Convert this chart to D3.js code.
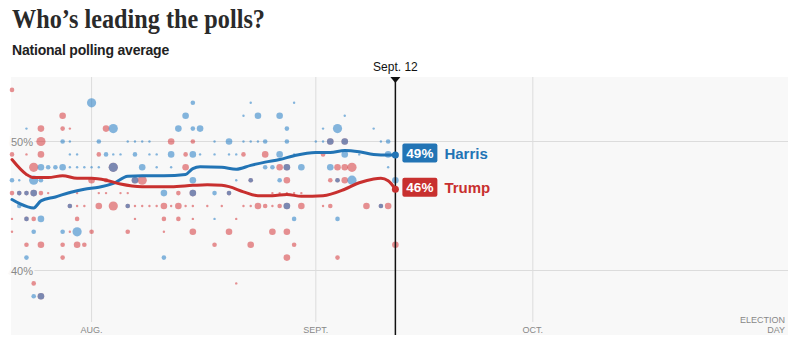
<!DOCTYPE html>
<html>
<head>
<meta charset="utf-8">
<script src="https://cdn.jsdelivr.net/npm/d3@7"></script>
<style>
  body { margin: 0; background: #fff; }
  text { font-family: "Liberation Sans", Arial, sans-serif; }
</style>
</head>
<body>
<div id="chart"></div>
<script>
// polling averages (date, pct)
const harrisAvg = [
  ["7/21", 45.5], ["7/22", 45.2], ["7/24", 44.85], ["7/25", 45.4], ["7/27", 45.7],
  ["7/29", 46.05], ["7/31", 46.3], ["8/2", 46.45], ["8/4", 46.75], ["8/6", 47.3],
  ["8/8", 47.35], ["8/11", 47.35], ["8/14", 47.45], ["8/15", 47.9], ["8/16", 48.05],
  ["8/19", 48.0], ["8/21", 47.85], ["8/23", 48.15], ["8/25", 48.4], ["8/27", 48.6],
  ["8/29", 48.9], ["9/1", 49.15], ["9/3", 49.15], ["9/5", 49.3], ["9/7", 49.2],
  ["9/9", 49.0], ["9/11", 48.95], ["9/12", 48.95]
];
const trumpAvg = [
  ["7/21", 48.6], ["7/23", 47.45], ["7/24", 47.2], ["7/26", 47.2], ["7/28", 47.35],
  ["7/30", 47.15], ["8/1", 47.15], ["8/3", 47.0], ["8/5", 46.7], ["8/8", 46.5],
  ["8/12", 46.5], ["8/15", 46.6], ["8/17", 46.65], ["8/19", 46.6], ["8/20", 46.5],
  ["8/22", 46.1], ["8/24", 45.8], ["8/26", 45.8], ["8/28", 45.9], ["8/30", 45.75],
  ["9/2", 45.8], ["9/5", 46.3], ["9/7", 46.8], ["9/9", 47.1], ["9/10", 47.15],
  ["9/11", 46.95], ["9/12", 46.3]
];

// individual polls (date, pct, size 1-4)
const harrisPolls = [
  ["8/1",53,4], ["8/15",53,2], ["8/23",53,1], ["8/29",53,1],
  ["8/14",52,3], ["8/22",52,1], ["8/24",52,3], ["8/27",52,3], ["9/5",52,1],
  ["7/23",51,1], ["8/4",51,4], ["8/13",51,3], ["8/15",51,2], ["8/16",51,3], ["8/28",51,2],
  ["9/2",51,1], ["9/4",51,4], ["9/9",51,1],
  ["7/28",50,2], ["7/29",50,1], ["8/2",50,2], ["8/6",50,1], ["8/7",50,1], ["8/8",50,1],
  ["8/9",50,1], ["8/18",50,1], ["8/20",50,3], ["8/22",50,1], ["8/23",50,1], ["8/24",50,1],
  ["8/25",50,2], ["8/28",50,2], ["9/1",50,1], ["9/2",50,1], ["9/3",50,3], ["9/5",50,3],
  ["9/10",50,1], ["9/11",50,2],
  ["7/29",49,1], ["7/30",49,1], ["8/3",49,2], ["8/4",49,1], ["8/5",49,1], ["8/7",49,2],
  ["8/9",49,1], ["8/10",49,1], ["8/12",49,3], ["8/15",49,3], ["8/16",49,1], ["8/18",49,1],
  ["8/20",49,1], ["8/21",49,1], ["8/27",49,3], ["8/29",49,1], ["9/5",49,3], ["9/7",49,1],
  ["9/11",49,3],
  ["7/25",48,3], ["7/26",48,2], ["7/27",48,2], ["7/28",48,3], ["7/29",48,1], ["7/30",48,1],
  ["7/31",48,1], ["8/1",48,1], ["8/2",48,1], ["8/4",48,4], ["8/8",48,3], ["8/10",48,1],
  ["8/12",48,1], ["8/25",48,2], ["8/26",48,2], ["8/28",48,3], ["8/30",48,3], ["9/3",48,3],
  ["9/11",48,1],
  ["7/21",47,2], ["7/22",47,1], ["7/24",47,4], ["7/25",47,2], ["8/7",47,3], ["8/15",47,3],
  ["8/21",47,1], ["8/23",47,2], ["8/27",47,2], ["9/4",47,2], ["9/6",47,4], ["9/12",47,3],
  ["7/22",46,2], ["7/23",46,2], ["7/24",46,3], ["8/11",46,3], ["8/15",46,3], ["8/18",46,2],
  ["8/20",46,2],
  ["7/22",45,2], ["7/29",45,2], ["8/6",45,2], ["8/28",45,3], ["9/10",45,2],
  ["7/23",44,2], ["7/25",44,3], ["8/18",44,1], ["8/29",44,2], ["9/4",44,2],
  ["7/24",43,2], ["7/28",43,2], ["7/30",43,4],
  ["7/23",41,2], ["8/11",41,2],
  ["7/24",38,2], ["7/25",38,3]
];
const trumpPolls = [
  ["7/21",54,2],
  ["7/28",52,3],
  ["7/25",51,3], ["7/28",51,2], ["7/29",51,1], ["8/3",51,3],
  ["7/25",50,4], ["8/12",50,3], ["8/15",50,2], ["9/3",50,3], ["9/5",50,3],
  ["7/21",49,2], ["7/23",49,1], ["7/25",49,3], ["8/2",49,2], ["8/14",49,2], ["8/22",49,2],
  ["8/25",49,3], ["9/2",49,2],
  ["7/24",48,4], ["8/4",48,4], ["8/14",48,3], ["8/27",48,3], ["8/28",48,3], ["9/4",48,3],
  ["9/5",48,3], ["9/6",48,4],
  ["8/1",47,3], ["8/3",47,2], ["8/7",47,3], ["8/8",47,4], ["8/23",47,2], ["8/28",47,3],
  ["9/3",47,2], ["9/4",47,2], ["9/5",47,3],
  ["7/21",46,2], ["7/22",46,2], ["7/23",46,2], ["7/24",46,3], ["7/25",46,2], ["7/26",46,1],
  ["7/29",46,1], ["7/30",46,1], ["8/2",46,1], ["8/3",46,1], ["8/5",46,1], ["8/6",46,1],
  ["8/13",46,2], ["8/15",46,3], ["8/20",46,2], ["8/26",46,1], ["8/27",46,1], ["8/28",46,1],
  ["8/29",46,1], ["8/30",46,1],
  ["7/29",45,2], ["7/30",45,1], ["7/31",45,1], ["8/2",45,3], ["8/4",45,4], ["8/6",45,2],
  ["8/7",45,1], ["8/8",45,1], ["8/9",45,1], ["8/10",45,1], ["8/11",45,3], ["8/12",45,1],
  ["8/13",45,3], ["8/14",45,1], ["8/15",45,1], ["8/17",45,1], ["8/19",45,1], ["8/22",45,1],
  ["8/23",45,1], ["8/24",45,3], ["8/25",45,2], ["8/26",45,1], ["8/27",45,2], ["8/28",45,3],
  ["8/30",45,3], ["9/2",45,1], ["9/3",45,2], ["9/8",45,3], ["9/10",45,2], ["9/11",45,3],
  ["7/21",44,1], ["7/23",44,2], ["7/24",44,2], ["7/30",44,2], ["8/7",44,1], ["8/11",44,2],
  ["8/13",44,2], ["8/15",44,1], ["8/21",44,1],
  ["7/21",43,1], ["7/29",43,1], ["8/1",43,2], ["8/6",43,2], ["8/11",43,1], ["8/15",43,3],
  ["8/20",43,3], ["8/26",43,3], ["8/28",43,3],
  ["7/23",42,2], ["7/25",42,3], ["7/28",42,2], ["7/30",42,3], ["7/31",42,2], ["8/18",42,2],
  ["8/23",42,3], ["8/29",42,2], ["9/12",42,3],
  ["7/28",41,2], ["8/28",41,3], ["9/4",41,2],
  ["7/24",39,2], ["8/21",39,1],
  ["7/25",38,3]
];

const monthTicks = ["8/1", "9/1", "10/1"];
const monthLabels = ["AUG.", "SEPT.", "OCT."];
const pctTicks = [50, 40];
const today = "9/12";
const todayLabel = "Sept. 12";
const electionDay = "11/5";

const parse = s => { const [m, d] = s.split("/"); return new Date(2024, +m - 1, +d); };

const width = 800, height = 350;
const blue = "#2274b5", red = "#c8302f";

const svg = d3.select("#chart").append("svg")
  .attr("width", width)
  .attr("height", height);

const x = d3.scaleTime()
  .domain([parse("7/21"), parse(electionDay)])
  .range([12, 786]);
const y = d3.scaleLinear()
  .domain([35, 55])
  .range([335, 77]);

// titles
svg.append("text")
  .attr("x", 12).attr("y", 28)
  .style("font-family", "'Liberation Serif', serif")
  .attr("font-weight", "bold")
  .attr("font-size", 27)
  .attr("textLength", 253)
  .attr("lengthAdjust", "spacingAndGlyphs")
  .attr("fill", "#2a2a2a")
  .text("Who\u2019s leading the polls?");

svg.append("text")
  .attr("x", 12).attr("y", 55)
  .attr("font-weight", "bold")
  .attr("font-size", 14)
  .attr("letter-spacing", -0.2)
  .attr("fill", "#222")
  .text("National polling average");

// plot background
svg.append("rect")
  .attr("x", 11).attr("y", 77)
  .attr("width", 777).attr("height", 258)
  .attr("fill", "#f8f8f8");

// vertical month grid
svg.append("g").selectAll("line")
  .data(monthTicks)
  .join("line")
  .attr("x1", d => x(parse(d))).attr("x2", d => x(parse(d)))
  .attr("y1", 77).attr("y2", 322)
  .attr("stroke", "#dcdcdc");

svg.append("g").selectAll("text")
  .data(monthTicks)
  .join("text")
  .attr("x", d => x(parse(d)))
  .attr("y", 333)
  .attr("text-anchor", "middle")
  .attr("font-size", 9)
  .attr("fill", "#888")
  .text((d, i) => monthLabels[i]);

svg.append("text")
  .attr("text-anchor", "end")
  .attr("font-size", 9)
  .attr("fill", "#888")
  .selectAll("tspan")
  .data(["ELECTION", "DAY"])
  .join("tspan")
  .attr("x", 785)
  .attr("y", (d, i) => 323 + i * 10)
  .text(d => d);

// horizontal pct grid
svg.append("g").selectAll("line")
  .data(pctTicks)
  .join("line")
  .attr("x1", 11).attr("x2", 788)
  .attr("y1", d => y(d)).attr("y2", d => y(d))
  .attr("stroke", "#dcdcdc");

svg.append("g").selectAll("text")
  .data(pctTicks)
  .join("text")
  .attr("x", 11)
  .attr("y", d => y(d) + 4)
  .attr("font-size", 11)
  .attr("fill", "#888")
  .attr("stroke", "#f8f8f8")
  .attr("stroke-width", 4)
  .attr("paint-order", "stroke")
  .text(d => d + "%");

// poll dots
const radius = d3.scaleOrdinal().domain([1, 2, 3, 4]).range([1.2, 2.3, 3.3, 4.6]);

svg.append("g").selectAll("circle")
  .data(trumpPolls)
  .join("circle")
  .attr("cx", d => x(parse(d[0])))
  .attr("cy", d => y(d[1]))
  .attr("r", d => radius(d[2]))
  .attr("fill", "#d5393c")
  .attr("fill-opacity", 0.55);

svg.append("g").selectAll("circle")
  .data(harrisPolls)
  .join("circle")
  .attr("cx", d => x(parse(d[0])))
  .attr("cy", d => y(d[1]))
  .attr("r", d => radius(d[2]))
  .attr("fill", "#2f83c8")
  .attr("fill-opacity", 0.58);

// averages
const line = d3.line()
  .x(d => x(parse(d[0])))
  .y(d => y(d[1]))
  .curve(d3.curveMonotoneX);

[[harrisAvg, blue], [trumpAvg, red]].forEach(([data, color]) => {
  svg.append("path")
    .datum(data)
    .attr("d", line)
    .attr("fill", "none")
    .attr("stroke", color)
    .attr("stroke-width", 3)
    .attr("stroke-linejoin", "round")
    .attr("stroke-linecap", "round");
});

// today marker
const tx = x(parse(today));
svg.append("line")
  .attr("x1", tx).attr("x2", tx)
  .attr("y1", 77).attr("y2", 335)
  .attr("stroke", "#111")
  .attr("stroke-width", 1.5);
svg.append("path")
  .attr("d", `M${tx - 5},77 L${tx + 5},77 L${tx},83 Z`)
  .attr("fill", "#111");
svg.append("text")
  .attr("x", tx).attr("y", 71)
  .attr("text-anchor", "middle")
  .attr("font-size", 12)
  .attr("fill", "#111")
  .text(todayLabel);

// end dots + labels
const labels = [
  { name: "Harris", data: harrisAvg, color: blue },
  { name: "Trump", data: trumpAvg, color: red }
];
labels.forEach(l => {
  const last = l.data[l.data.length - 1];
  const cy = y(last[1]);
  svg.append("circle")
    .attr("cx", tx).attr("cy", cy)
    .attr("r", 3.5)
    .attr("fill", l.color);
  const ly = cy - 2;
  svg.append("rect")
    .attr("x", tx + 7).attr("y", ly - 9.5)
    .attr("width", 35).attr("height", 19)
    .attr("rx", 2)
    .attr("fill", l.color);
  svg.append("text")
    .attr("x", tx + 24.5).attr("y", ly + 5)
    .attr("text-anchor", "middle")
    .attr("font-weight", "bold")
    .attr("font-size", 13.5)
    .attr("fill", "#fff")
    .text(Math.round(last[1]) + "%");
  svg.append("text")
    .attr("x", tx + 49).attr("y", ly + 5.5)
    .attr("font-weight", "bold")
    .attr("font-size", 15)
    .attr("fill", l.color)
    .text(l.name);
});
</script>
</body>
</html>
